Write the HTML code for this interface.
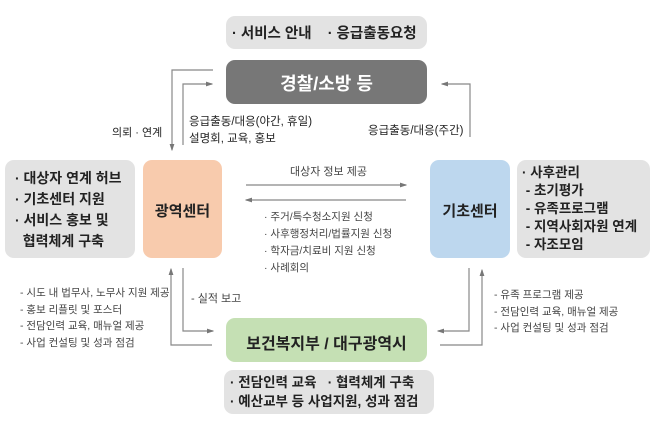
<!DOCTYPE html>
<html><head><meta charset="utf-8"><style>
body{margin:0;width:656px;height:421px;background:#fff;position:relative;overflow:hidden;font-family:"Liberation Sans","Noto Sans CJK KR",sans-serif;color:#222}
.b{position:absolute;border-radius:9px;box-sizing:border-box}
.t{position:absolute;white-space:nowrap}
</style></head><body>
<svg width="656" height="421" style="position:absolute;left:0;top:0">
<defs><marker id="a" markerWidth="6" markerHeight="6" refX="5" refY="3" orient="auto"><path d="M0,1 L6,3 L0,5z" fill="#777"/></marker></defs>
<g stroke="#888" stroke-width="1.2" fill="none">
<polyline points="213,70 172,70 172,150" marker-end="url(#a)"/>
<polyline points="183,145 183,84 212,84" marker-end="url(#a)"/>
<polyline points="470,137 470,84 442,84" marker-end="url(#a)"/>
<line x1="246" y1="185" x2="406" y2="185" marker-end="url(#a)"/>
<line x1="406" y1="200" x2="246" y2="200" marker-end="url(#a)"/>
<polyline points="212,345 171,345 171,269" marker-end="url(#a)"/>
<polyline points="183,268 183,331 213,331" marker-end="url(#a)"/>
<polyline points="469,268 469,331 438,331" marker-end="url(#a)"/>
<polyline points="440,345 482,345 482,270" marker-end="url(#a)"/>
</g></svg>
<div class="b" style="left:226px;top:16px;width:201px;height:33px;background:#e3e3e3"></div>
<div class="t" style="left:232px;top:22px;font-size:14.5px;font-weight:bold">· 서비스 안내 &nbsp;&nbsp;&nbsp;· 응급출동요청</div>
<div class="b" style="left:226px;top:60px;width:201px;height:44px;background:#777"></div>
<div class="t" style="left:226px;top:70px;width:201px;text-align:center;font-size:18px;font-weight:bold;color:#fff">경찰/소방 등</div>
<div class="t" style="left:112px;top:124px;font-size:11px">의뢰 · 연계</div>
<div class="t" style="left:189px;top:114px;font-size:11.5px;line-height:17px">응급출동/대응(야간, 휴일)<br>설명회, 교육, 홍보</div>
<div class="t" style="left:368px;top:122px;font-size:11.5px">응급출동/대응(주간)</div>
<div class="b" style="left:5px;top:160px;width:130px;height:98px;background:#e3e3e3"></div>
<div class="t" style="left:15px;top:168px;font-size:14px;font-weight:bold;line-height:21px">· 대상자 연계 허브<br>· 기초센터 지원<br>· 서비스 홍보 및<br>&nbsp;&nbsp;협력체계 구축</div>
<div class="b" style="left:143px;top:160px;width:79px;height:98px;background:#f8cbad"></div>
<div class="t" style="left:143px;top:200px;width:79px;text-align:center;font-size:15px;font-weight:bold">광역센터</div>
<div class="b" style="left:430px;top:160px;width:80px;height:98px;background:#bdd7ee"></div>
<div class="t" style="left:430px;top:200px;width:80px;text-align:center;font-size:15px;font-weight:bold">기초센터</div>
<div class="b" style="left:517px;top:160px;width:133px;height:98px;background:#e3e3e3"></div>
<div class="t" style="left:522px;top:164px;font-size:13.5px;font-weight:bold;line-height:18px">· 사후관리<br>&nbsp;- 초기평가<br>&nbsp;- 유족프로그램<br>&nbsp;- 지역사회자원 연계<br>&nbsp;- 자조모임</div>
<div class="t" style="left:290px;top:163px;font-size:11px;color:#444">대상자 정보 제공</div>
<div class="t" style="left:264px;top:209px;font-size:10.5px;line-height:17px;color:#444">· 주거/특수청소지원 신청<br>· 사후행정처리/법률지원 신청<br>· 학자금/치료비 지원 신청<br>· 사례회의</div>
<div class="t" style="left:20px;top:285px;font-size:10.5px;line-height:16.5px;color:#444">- 시도 내 법무사, 노무사 지원 제공<br>- 홍보 리플릿 및 포스터<br>- 전담인력 교육, 매뉴얼 제공<br>- 사업 컨설팅 및 성과 점검</div>
<div class="t" style="left:191px;top:290px;font-size:11px;color:#444">- 실적 보고</div>
<div class="t" style="left:494px;top:287px;font-size:10.5px;line-height:16.5px;color:#444">- 유족 프로그램 제공<br>- 전담인력 교육, 매뉴얼 제공<br>- 사업 컨설팅 및 성과 점검</div>
<div class="b" style="left:226px;top:318px;width:201px;height:44px;background:#c5e0b4"></div>
<div class="t" style="left:226px;top:330px;width:201px;text-align:center;font-size:16px;font-weight:bold">보건복지부 / 대구광역시</div>
<div class="b" style="left:224px;top:370px;width:210px;height:44px;background:#e3e3e3"></div>
<div class="t" style="left:230px;top:373px;font-size:13.5px;font-weight:bold;line-height:19px">· 전담인력 교육 &nbsp;&nbsp;· 협력체계 구축<br>· 예산교부 등 사업지원, 성과 점검</div>
</body></html>
